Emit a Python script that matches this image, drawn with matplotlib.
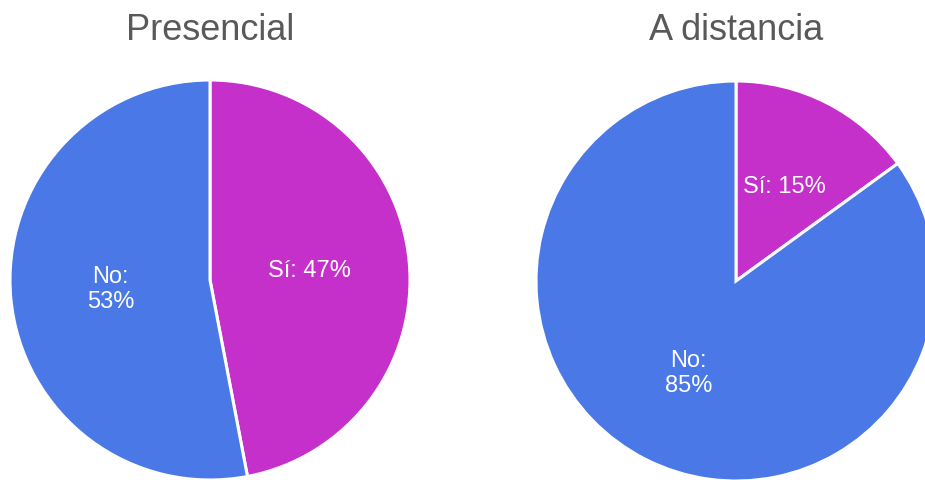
import numpy as np
import matplotlib.pyplot as plt

# ==========================
# DADOS
# ==========================
titulos = ["Presencial", "A distancia"]
categorias = ["Sí", "No"]
presencial = [47, 53]
a_distancia = [15, 85]

cores = ["#C430C9", "#4A78E6"]

plt.rcParams["font.family"] = ["Liberation Sans", "DejaVu Sans"]

W, H = 925, 480
fig = plt.figure(figsize=(W / 100, H / 100), dpi=100)


def desenhar_pizza(ax, valores, dist_labels):
    wedges, _ = ax.pie(
        valores,
        colors=cores,
        startangle=90,
        counterclock=False,
        radius=1,
        wedgeprops=dict(edgecolor="white", linewidth=2.2),
    )
    for w, cat, v, d in zip(wedges, categorias, valores, dist_labels):
        ang = np.deg2rad((w.theta1 + w.theta2) / 2)
        x, y = d * np.cos(ang), d * np.sin(ang)
        # rótulo quebra linha para "No"
        txt = f"{cat}: {v}%" if cat == "Sí" else f"{cat}:\n{v}%"
        ax.text(x, y, txt, ha="center", va="center", color="white",
                fontsize=17, linespacing=1.2)
    ax.set_xlim(-1, 1)
    ax.set_ylim(-1, 1)
    ax.set_aspect("equal")
    ax.axis("off")


# posições em pixels (esq, baixo, largura, altura)
ax1 = fig.add_axes([10 / W, 0 / H, 400 / W, 400 / H])
ax2 = fig.add_axes([536 / W, -1 / H, 400 / W, 400 / H])

desenhar_pizza(ax1, presencial, [0.5, 0.5])
desenhar_pizza(ax2, a_distancia, [0.53, 0.52])

fig.text(210 / W, 1 - 30 / H, titulos[0], ha="center", va="center",
         fontsize=26, color="#595959")
fig.text(736 / W, 1 - 30 / H, titulos[1], ha="center", va="center",
         fontsize=26, color="#595959")

fig.savefig("out.png", dpi=100, facecolor="white")
